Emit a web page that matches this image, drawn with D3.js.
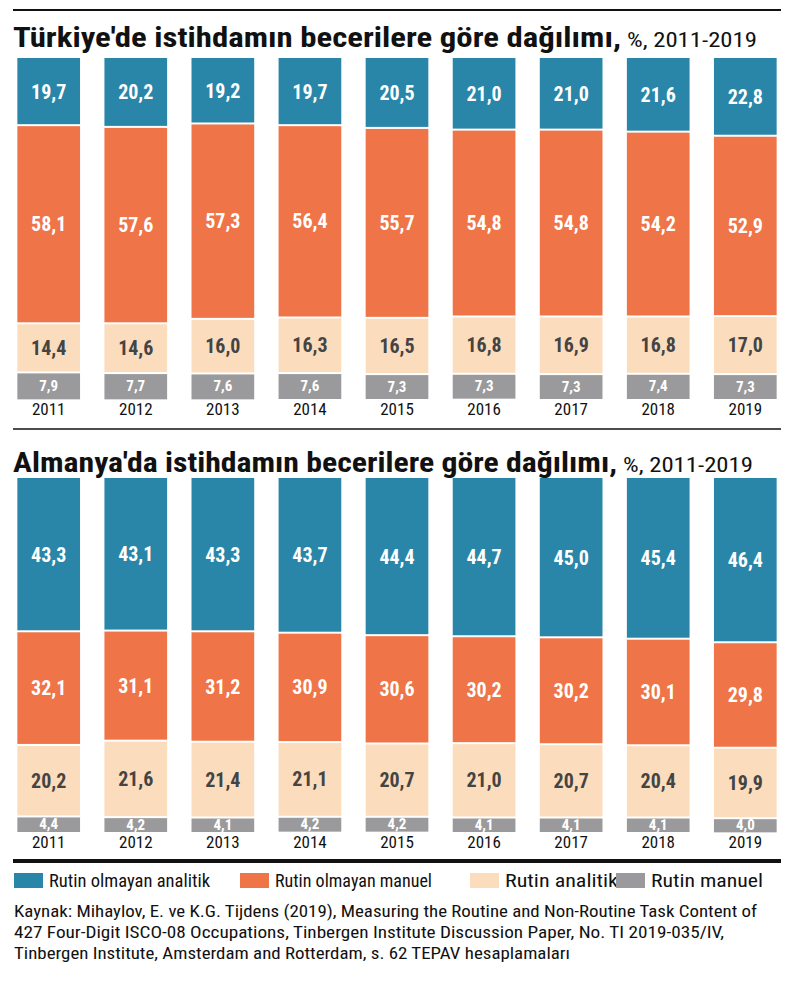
<!DOCTYPE html>
<html><head><meta charset="utf-8">
<script src="https://cdn.jsdelivr.net/npm/d3@7"></script>
<style>body{margin:0;background:#fff}</style>
</head><body><div id="wrapper"></div>
<script>
const years = ["2011","2012","2013","2014","2015","2016","2017","2018","2019"];
const categories = ["Rutin olmayan analitik","Rutin olmayan manuel","Rutin analitik","Rutin manuel"];
const colors = ["#2a86a8","#ef7447","#fbdcbd","#9a9a9c"];
const trNonRoutineAnalytic = [19.7,20.2,19.2,19.7,20.5,21.0,21.0,21.6,22.8];
const trNonRoutineManual   = [58.1,57.6,57.3,56.4,55.7,54.8,54.8,54.2,52.9];
const trRoutineAnalytic    = [14.4,14.6,16.0,16.3,16.5,16.8,16.9,16.8,17.0];
const trRoutineManual      = [7.9,7.7,7.6,7.6,7.3,7.3,7.3,7.4,7.3];
const deNonRoutineAnalytic = [43.3,43.1,43.3,43.7,44.4,44.7,45.0,45.4,46.4];
const deNonRoutineManual   = [32.1,31.1,31.2,30.9,30.6,30.2,30.2,30.1,29.8];
const deRoutineAnalytic    = [20.2,21.6,21.4,21.1,20.7,21.0,20.7,20.4,19.9];
const deRoutineManual      = [4.4,4.2,4.1,4.2,4.2,4.1,4.1,4.1,4.0];

const W = 792, H = 1000;
const cond = "'Liberation Sans Narrow','Roboto Condensed','DejaVu Sans Condensed',sans-serif";
const svg = d3.select("#wrapper").append("svg").attr("width", W).attr("height", H);

const x = d3.scaleBand().domain(years).range([13, 781]).paddingInner(0.28).paddingOuter(0.05);
const fmt = v => v.toFixed(1).replace(".", ",");

function panel(title, series, top, bottom, titleY, titleLen) {
    svg.append("text").attr("x", 13).attr("y", titleY)
        .attr("textLength", titleLen).attr("lengthAdjust", "spacingAndGlyphs")
        .style("font-family", cond).style("font-weight", "bold").style("font-size", "28px")
        .attr("fill", "#111").text(title);
    svg.append("text").attr("x", 13 + titleLen + 6).attr("y", titleY)
        .attr("textLength", 130).attr("lengthAdjust", "spacingAndGlyphs")
        .style("font-family", cond).style("font-size", "21px").attr("fill", "#111").text("%, 2011-2019");
    const y = d3.scaleLinear().domain([0, 100]).range([top, bottom]);
    const stacked = d3.stack().keys([0,1,2,3])(years.map((yr, i) => series.map(s => s[i])));
    stacked.forEach((layer, k) => {
        const g = svg.append("g");
        g.selectAll("rect").data(layer).enter().append("rect")
            .attr("x", (d, i) => x(years[i]))
            .attr("width", x.bandwidth())
            .attr("y", d => y(d[0]) + (k ? 1 : 0))
            .attr("height", d => y(d[1]) - y(d[0]) - (k ? 1 : 0) - (k < 3 ? 1 : 0))
            .attr("fill", colors[k]);
        g.selectAll("text").data(layer).enter().append("text")
            .attr("x", (d, i) => x(years[i]) + x.bandwidth() / 2)
            .attr("y", d => (y(d[0]) + y(d[1])) / 2 + (k === 3 ? 5 : 7))
            .attr("text-anchor", "middle")
            .style("font-family", cond).style("font-weight", "bold")
            .style("font-size", k === 3 ? "15px" : "20px")
            .attr("fill", k === 2 ? "#444" : "#fff")
            .text((d, i) => fmt(series[k][i]));
    });
    svg.append("g").attr("transform", `translate(0,${bottom})`)
        .call(d3.axisBottom(x).tickSize(0).tickPadding(4))
        .call(g => g.select(".domain").remove())
        .selectAll("text").style("font-family", cond).style("font-size", "17px")
        .attr("fill", "#111");
}

svg.append("line").attr("x1", 13).attr("x2", 781).attr("y1", 10).attr("y2", 10).attr("stroke", "#111").attr("stroke-width", 2);
panel("Türkiye'de istihdamın becerilere göre dağılımı,",
    [trNonRoutineAnalytic, trNonRoutineManual, trRoutineAnalytic, trRoutineManual], 58, 399, 47, 608);
svg.append("line").attr("x1", 13).attr("x2", 781).attr("y1", 429).attr("y2", 429).attr("stroke", "#111").attr("stroke-width", 1.5);
panel("Almanya'da istihdamın becerilere göre dağılımı,",
    [deNonRoutineAnalytic, deNonRoutineManual, deRoutineAnalytic, deRoutineManual], 478, 832, 472, 604);
svg.append("line").attr("x1", 13).attr("x2", 781).attr("y1", 861).attr("y2", 861).attr("stroke", "#111").attr("stroke-width", 4);

const legendX = [14, 240, 470, 616];
const legendLen = [161, 157, 113, 112];
const leg = svg.append("g").selectAll("g").data(categories).enter().append("g")
    .attr("transform", (d, i) => `translate(${legendX[i]},873)`);
leg.append("rect").attr("width", 29).attr("height", 15).attr("fill", (d, i) => colors[i]);
leg.append("text").attr("x", 35).attr("y", 14).text(d => d)
    .attr("textLength", (d, i) => legendLen[i]).attr("lengthAdjust", "spacingAndGlyphs")
    .style("font-family", cond).style("font-size", "18px").attr("fill", "#111");

const source = ["Kaynak: Mihaylov, E. ve K.G. Tijdens (2019), Measuring the Routine and Non-Routine Task Content of",
    "427 Four-Digit ISCO-08 Occupations, Tinbergen Institute Discussion Paper, No. TI 2019-035/IV,",
    "Tinbergen Institute, Amsterdam and Rotterdam, s. 62  TEPAV hesaplamaları"];
const sourceLen = [743, 710, 556];
svg.append("g").selectAll("text").data(source).enter().append("text")
    .attr("x", 14).attr("y", (d, i) => 917 + i * 21).text(d => d)
    .attr("textLength", (d, i) => sourceLen[i]).attr("lengthAdjust", "spacingAndGlyphs")
    .style("font-family", cond).style("font-size", "17px").attr("fill", "#111");
</script></body></html>
